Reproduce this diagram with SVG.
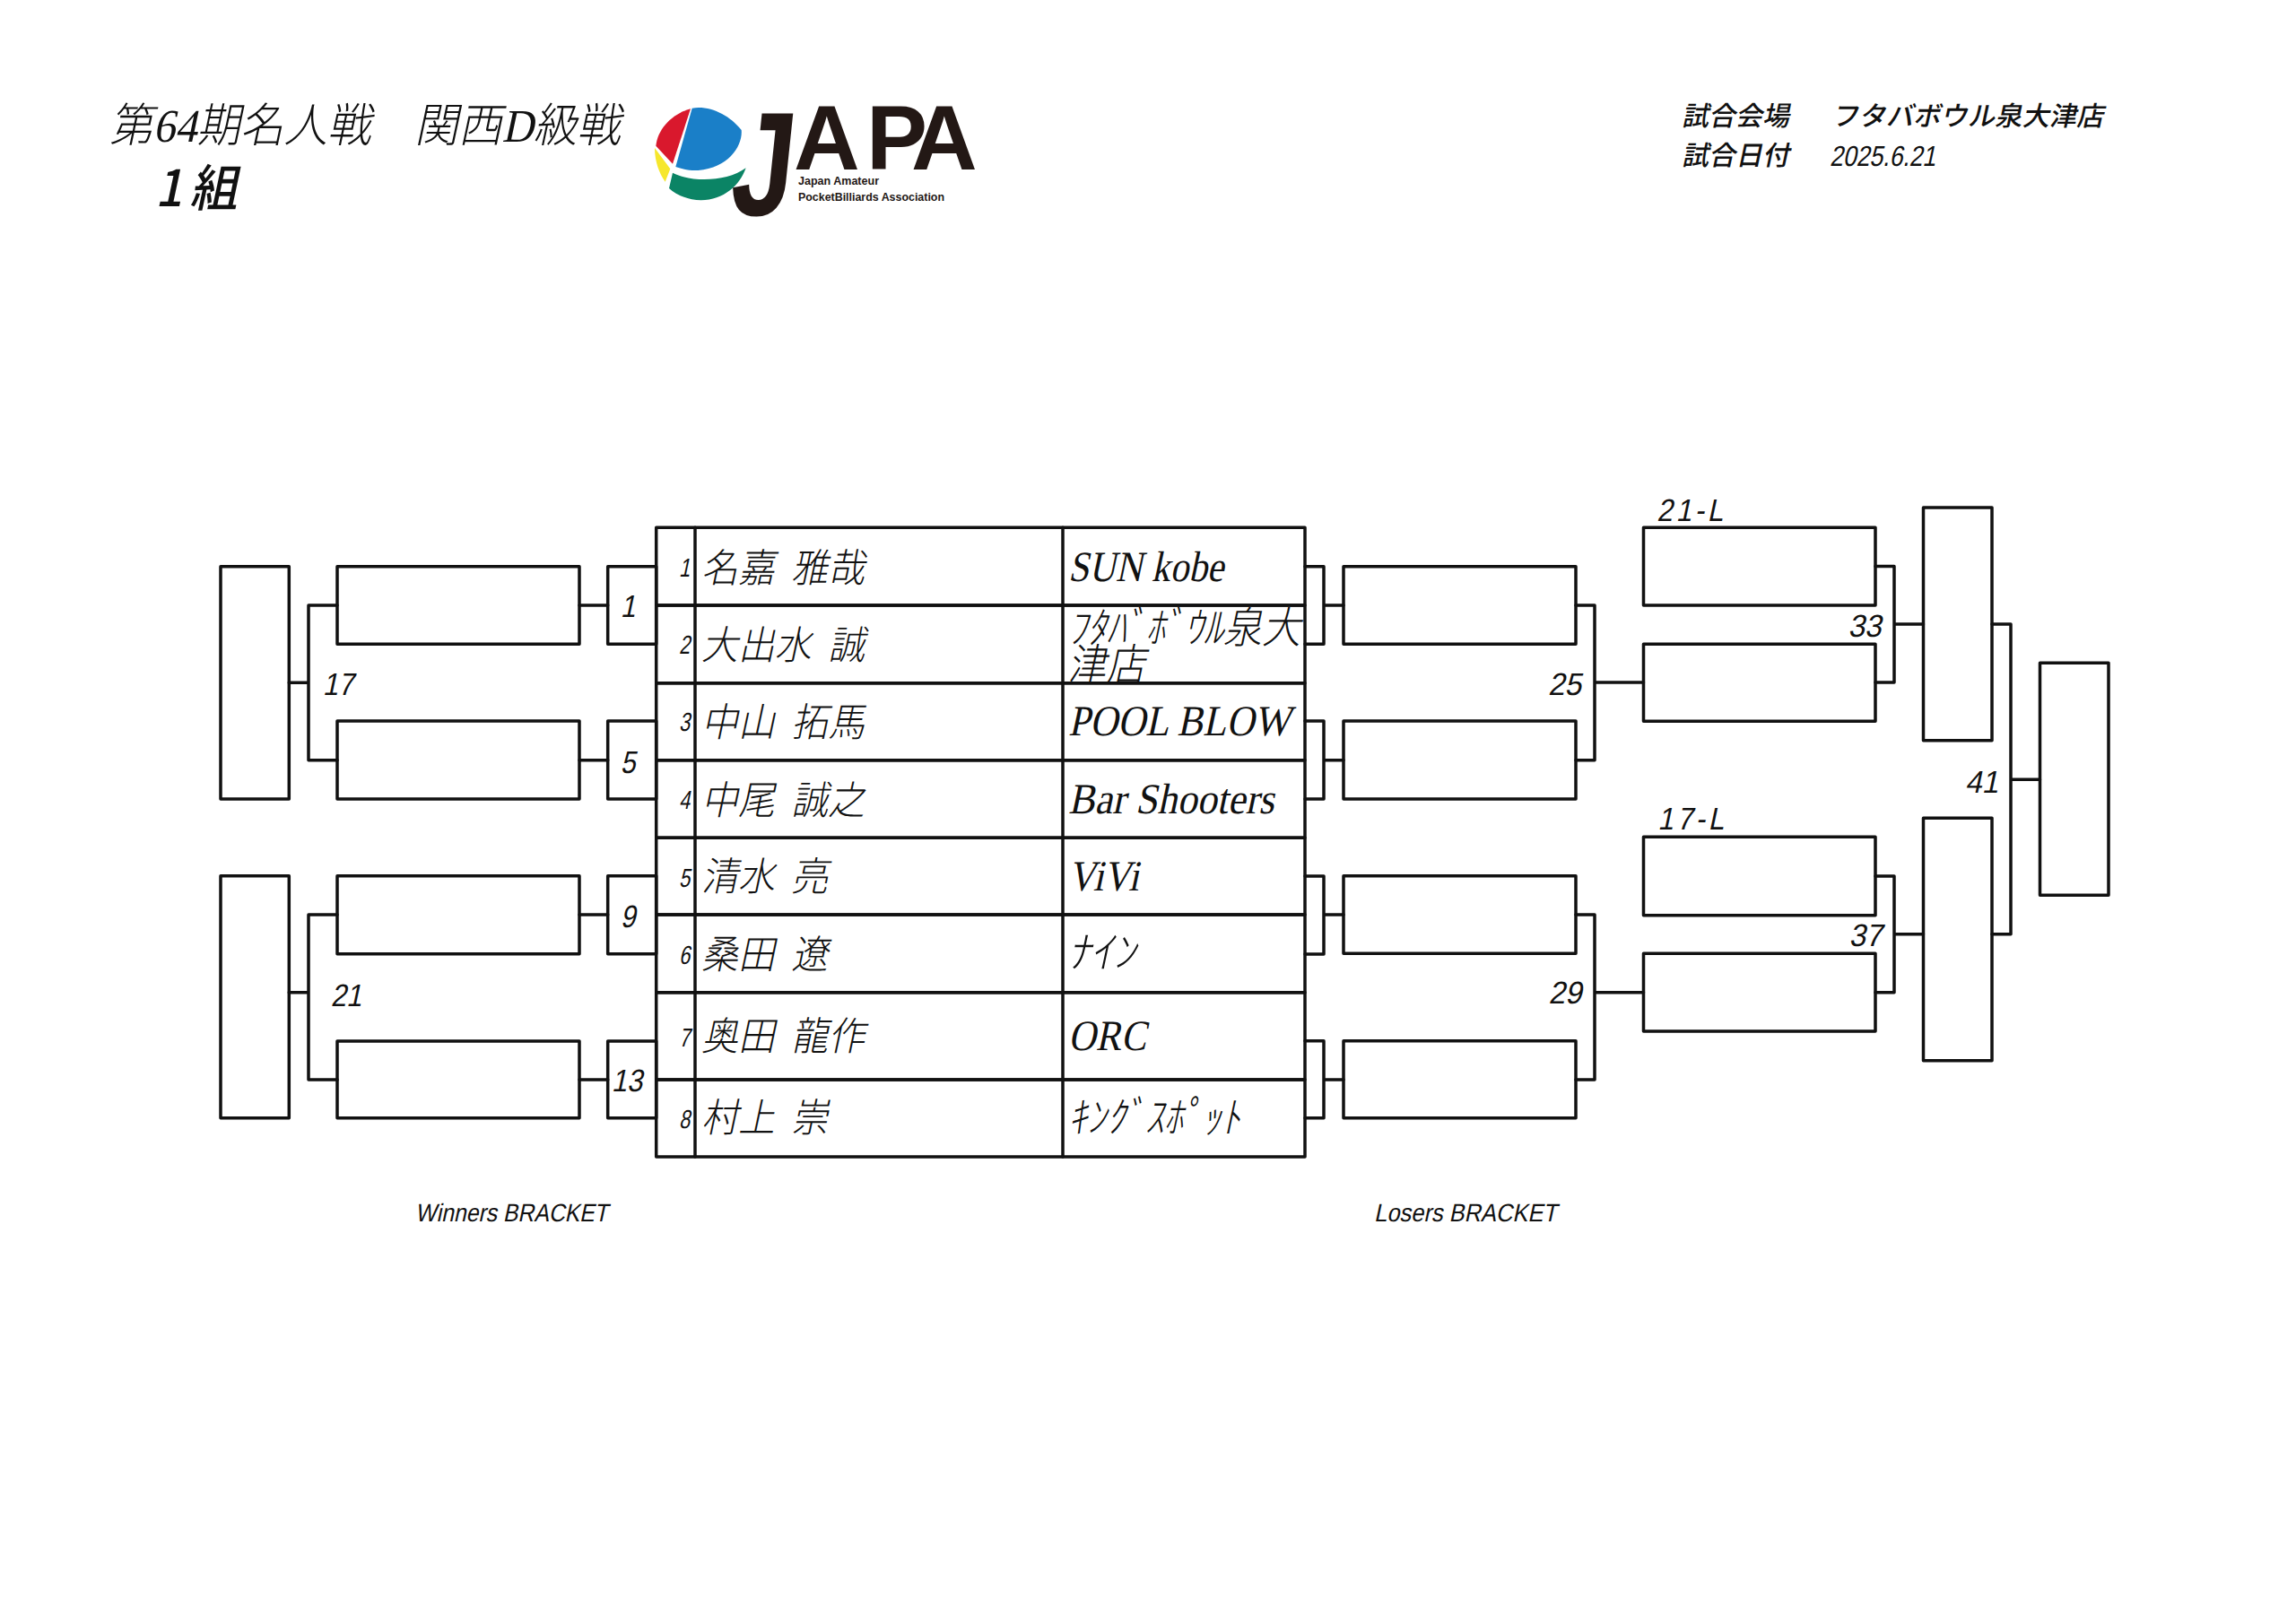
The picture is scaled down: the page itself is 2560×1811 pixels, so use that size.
<svg xmlns="http://www.w3.org/2000/svg" width="2560" height="1811" viewBox="0 0 2560 1811">
<style>
.b{fill:none;stroke:#111;stroke-width:3.5;stroke-linejoin:round;stroke-linecap:round}
text{fill:#111}
.s{font-family:"Liberation Sans","Noto Sans CJK JP",sans-serif}
.m{font-family:"Liberation Serif","Noto Sans CJK JP",serif;font-weight:300}
.g{font-family:"Noto Sans CJK JP",sans-serif;font-weight:500}
.n{font-size:44px;word-spacing:.2em}
.c{font-size:48px}
.k{font-size:48px}
.r{font-size:29px;text-anchor:middle}
.l{font-size:35px;text-anchor:middle}
.h{font-size:30px}
.logo{font-family:"Liberation Sans",sans-serif;font-weight:700;fill:#231815}
</style>
<rect width="2560" height="1811" fill="#fff"/>
<g id="header">
<text class="m" font-size="52" transform="translate(122 158) skewX(-12) scale(.935 1)">第64期名人戦　関西D級戦</text>
<text class="g" font-size="56" font-weight="700" word-spacing="-4" transform="translate(173 230) skewX(-12) scale(.95 1)">1 組</text>
<text class="g h" transform="translate(1875 140) skewX(-12)">試合会場</text>
<text class="g h" transform="translate(2042 140) skewX(-12) scale(1.012 1)">フタバボウル泉大津店</text>
<text class="g h" transform="translate(1875 184) skewX(-12)">試合日付</text>
<text class="s" font-size="32" transform="translate(2040 185) skewX(-12) scale(.83 1)">2025.6.21</text>
</g>
<g id="logo">
<g transform="translate(720 100) scale(.33333)">
<path fill="#1a7fc8" d="M155 62C215 52 280 85 320 135C325 185 280 262 175 270C150 272 120 265 100 258Z"/>
<path fill="#d9182d" d="M150 64C90 80 40 130 34 188L90 248Z"/>
<path fill="#f6e72c" d="M30 195C30 240 45 280 65 308L82 265Z"/>
<path fill="#0b8465" d="M90 278C150 310 270 310 335 262C315 320 260 370 185 370C140 370 100 350 78 330Z"/>
</g>
<text class="logo" font-size="165" transform="translate(812 240) skewX(-6) scale(.75 1)">J</text>
<text class="logo" font-size="102" x="885 966 1016" y="189">APA</text>
<text class="logo" font-size="12.5" x="890" y="206" textLength="90" lengthAdjust="spacingAndGlyphs">Japan Amateur</text>
<text class="logo" font-size="12.5" x="890" y="224" textLength="163" lengthAdjust="spacingAndGlyphs">PocketBilliards Association</text>
</g>
<g id="connectors" class="b">
<path d="M322.3 761.3H344M344 675V847.7M344 675H376M344 847.7H376"/>
<path d="M646 675H677.7M646 847.7H677.7"/>
<path d="M322.3 1106.7H344M344 1020V1204M344 1020H376M344 1204H376"/>
<path d="M646 1020H677.7M646 1204H677.7"/>
<path d="M1455 631.7H1476V718.3H1455M1476 675H1498"/>
<path d="M1455 804H1476V891H1455M1476 847.7H1498"/>
<path d="M1455 977H1476V1064H1455M1476 1020H1498"/>
<path d="M1455 1160.7H1476V1246.7H1455M1476 1204H1498"/>
<path d="M1757 675H1778V847.7H1757M1778 761H1832.5"/>
<path d="M1757 1020H1778V1204H1757M1778 1106.7H1832.5"/>
<path d="M2091 631.5H2112V761H2091M2112 696H2144.5"/>
<path d="M2091 977H2112V1106.7H2091M2112 1041.7H2144.5"/>
<path d="M2221 696H2242V1041.7H2221M2242 869.3H2274.5"/>
</g>
<g id="w-final-1"><rect class="b" x="246" y="631.7" width="76.3" height="259.3"/></g>
<g id="w-final-2"><rect class="b" x="246" y="976.7" width="76.3" height="270"/></g>
<g id="w2-1"><rect class="b" x="376" y="631.7" width="270" height="86.6"/></g>
<g id="w2-2"><rect class="b" x="376" y="804" width="270" height="87"/></g>
<g id="w2-3"><rect class="b" x="376" y="976.7" width="270" height="87"/></g>
<g id="w2-4"><rect class="b" x="376" y="1161" width="270" height="85.7"/></g>
<g id="w1-1"><rect class="b" x="677.7" y="631.7" width="54" height="86.6"/><text class="s l" transform="translate(700 688) skewX(-12) scale(.85 1)">1</text></g>
<g id="w1-2"><rect class="b" x="677.7" y="804" width="54" height="87"/><text class="s l" transform="translate(700 861.7) skewX(-12) scale(.85 1)">5</text></g>
<g id="w1-3"><rect class="b" x="677.7" y="976.7" width="54" height="87"/><text class="s l" transform="translate(700 1034) skewX(-12) scale(.85 1)">9</text></g>
<g id="w1-4"><rect class="b" x="677.7" y="1161" width="54" height="85.7"/><text class="s l" transform="translate(699 1217) skewX(-12) scale(.88 1)">13</text></g>
<g id="label-17"><text class="s l" transform="translate(377 775) skewX(-12) scale(.88 1)">17</text></g>
<g id="label-21"><text class="s l" transform="translate(386 1122) skewX(-12) scale(.88 1)">21</text></g>
<g id="player-1">
<text class="s r" transform="translate(763 643) skewX(-12) scale(.75 1)">1</text>
<text class="m n" transform="translate(782 649) skewX(-12) scale(.93 1)">名嘉 雅哉</text>
<text class="m c" transform="translate(1191 648) skewX(-12) scale(.86 1)">SUN kobe</text>
<rect class="b" x="731.7" y="588.3" width="723.3" height="86.7"/><path class="b" d="M775 588.3V675M1185 588.3V675"/>
</g>
<g id="player-2">
<text class="s r" transform="translate(763 729) skewX(-12) scale(.75 1)">2</text>
<text class="m n" transform="translate(782 735) skewX(-12) scale(.93 1)">大出水 誠</text>
<text class="m k" transform="translate(1191 717) skewX(-12) scale(.9 1)">ﾌﾀﾊﾞﾎﾞｳﾙ泉大<tspan x="9" y="41">津店</tspan></text>
<rect class="b" x="731.7" y="675" width="723.3" height="86.7"/><path class="b" d="M775 675V761.7M1185 675V761.7"/>
</g>
<g id="player-3">
<text class="s r" transform="translate(763 815) skewX(-12) scale(.75 1)">3</text>
<text class="m n" transform="translate(782 821) skewX(-12) scale(.93 1)">中山 拓馬</text>
<text class="m c" transform="translate(1191 820) skewX(-12) scale(.895 1)">POOL BLOW</text>
<rect class="b" x="731.7" y="761.7" width="723.3" height="86"/><path class="b" d="M775 761.7V847.7M1185 761.7V847.7"/>
</g>
<g id="player-4">
<text class="s r" transform="translate(763 901.7) skewX(-12) scale(.75 1)">4</text>
<text class="m n" transform="translate(782 908) skewX(-12) scale(.93 1)">中尾 誠之</text>
<text class="m c" transform="translate(1191 906.7) skewX(-12) scale(.92 1)">Bar Shooters</text>
<rect class="b" x="731.7" y="847.7" width="723.3" height="86.6"/><path class="b" d="M775 847.7V934.3M1185 847.7V934.3"/>
</g>
<g id="player-5">
<text class="s r" transform="translate(763 989) skewX(-12) scale(.75 1)">5</text>
<text class="m n" transform="translate(782 993) skewX(-12) scale(.93 1)">清水 亮</text>
<text class="m c" transform="translate(1191 993) skewX(-12) scale(.87 1)">ViVi</text>
<rect class="b" x="731.7" y="934.3" width="723.3" height="85.7"/><path class="b" d="M775 934.3V1020M1185 934.3V1020"/>
</g>
<g id="player-6">
<text class="s r" transform="translate(763 1075) skewX(-12) scale(.75 1)">6</text>
<text class="m n" transform="translate(782 1080) skewX(-12) scale(.93 1)">桑田 遼</text>
<text class="m k" transform="translate(1191 1079) skewX(-12) scale(1.05 1)">ﾅｲﾝ</text>
<rect class="b" x="731.7" y="1020" width="723.3" height="86.7"/><path class="b" d="M775 1020V1106.7M1185 1020V1106.7"/>
</g>
<g id="player-7">
<text class="s r" transform="translate(763 1166.7) skewX(-12) scale(.75 1)">7</text>
<text class="m n" transform="translate(782 1171) skewX(-12) scale(.93 1)">奥田 龍作</text>
<text class="m c" transform="translate(1191 1170.7) skewX(-12) scale(.88 1)">ORC</text>
<rect class="b" x="731.7" y="1106.7" width="723.3" height="97.3"/><path class="b" d="M775 1106.7V1204M1185 1106.7V1204"/>
</g>
<g id="player-8">
<text class="s r" transform="translate(763 1258) skewX(-12) scale(.75 1)">8</text>
<text class="m n" transform="translate(782 1262) skewX(-12) scale(.93 1)">村上 崇</text>
<text class="m k" transform="translate(1191 1263) skewX(-12) scale(.89 1)">ｷﾝｸﾞｽﾎﾟｯﾄ</text>
<rect class="b" x="731.7" y="1204" width="723.3" height="86"/><path class="b" d="M775 1204V1290M1185 1204V1290"/>
</g>
<g id="l1-1"><rect class="b" x="1498" y="631.7" width="259" height="86.6"/></g>
<g id="l1-2"><rect class="b" x="1498" y="804" width="259" height="87"/></g>
<g id="l1-3"><rect class="b" x="1498" y="976.7" width="259" height="86.6"/></g>
<g id="l1-4"><rect class="b" x="1498" y="1160.7" width="259" height="86"/></g>
<g id="l2-1"><rect class="b" x="1832.5" y="588.3" width="258.5" height="86.7"/><text class="s l" letter-spacing="4" transform="translate(1886 580.7) skewX(-12) scale(.9 1)">21-L</text></g>
<g id="l2-2"><rect class="b" x="1832.5" y="718.3" width="258.5" height="86"/></g>
<g id="l2-3"><rect class="b" x="1832.5" y="933.3" width="258.5" height="87.4"/><text class="s l" letter-spacing="4" transform="translate(1887 925) skewX(-12) scale(.9 1)">17-L</text></g>
<g id="l2-4"><rect class="b" x="1832.5" y="1063.3" width="258.5" height="86.7"/></g>
<g id="l3-1"><rect class="b" x="2144.5" y="566" width="76.5" height="259.7"/></g>
<g id="l3-2"><rect class="b" x="2144.5" y="912.3" width="76.5" height="270.4"/></g>
<g id="final"><rect class="b" x="2274.5" y="739.3" width="76.5" height="259"/></g>
<g id="labels">
<text class="s l" transform="translate(1744.5 775) skewX(-12) scale(.95 1)">25</text>
<text class="s l" transform="translate(1745 1119) skewX(-12) scale(.95 1)">29</text>
<text class="s l" transform="translate(2079 710) skewX(-12) scale(.95 1)">33</text>
<text class="s l" transform="translate(2080 1055) skewX(-12) scale(.95 1)">37</text>
<text class="s l" transform="translate(2209.5 884) skewX(-12) scale(.95 1)">41</text>
<text class="s" font-size="28" transform="translate(463 1361.7) skewX(-12) scale(.885 1)">Winners BRACKET</text>
<text class="s" font-size="28" transform="translate(1532 1361.7) skewX(-12) scale(.91 1)">Losers BRACKET</text>
</g>
</svg>
